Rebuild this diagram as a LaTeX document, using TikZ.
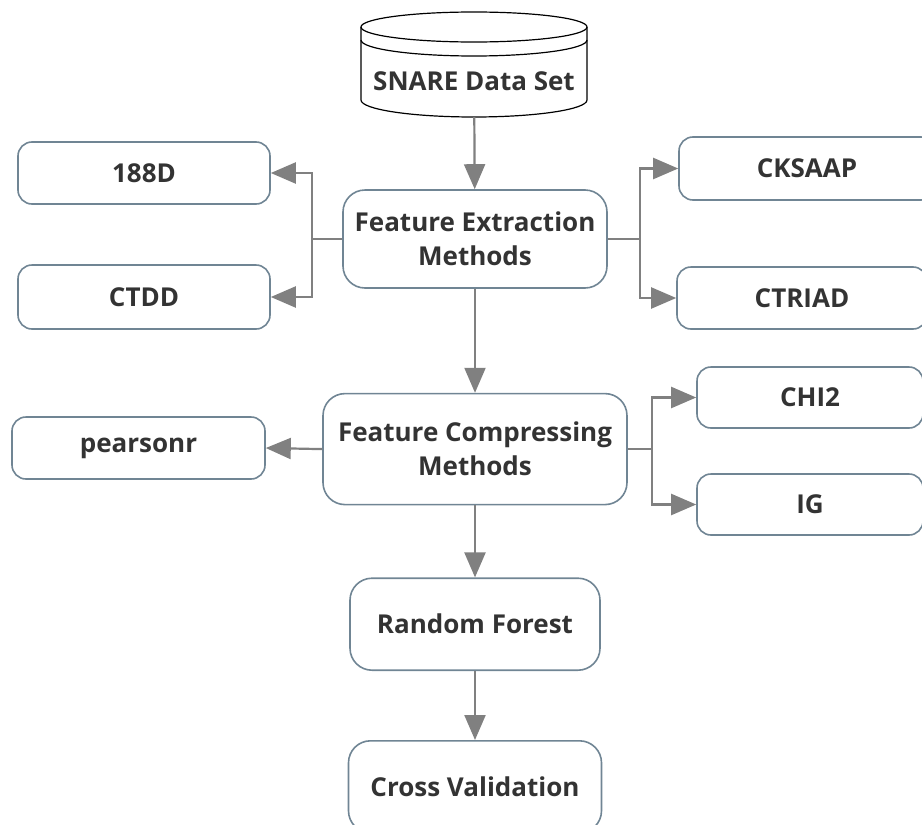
\documentclass[tikz,border=0pt]{standalone}
\usepackage{fontspec}
\setmainfont{Open Sans}
\usetikzlibrary{arrows.meta,positioning}

\definecolor{boxline}{RGB}{112,133,148}
\definecolor{linkgray}{RGB}{128,128,128}
\definecolor{textgray}{RGB}{51,51,51}

\begin{document}
\begin{tikzpicture}[
    x=1pt, y=-1pt,
    node distance=72pt,
    box/.style={draw=boxline, line width=1.6pt, fill=white, rectangle, rounded corners=14pt, text=textgray, font=\fontsize{26}{34}\selectfont\bfseries, align=center, inner sep=0pt},
    sidebox/.style={box, minimum width=252pt, minimum height=62pt},
    mainbox/.style={box, rounded corners=22pt},
    cyl/.style={draw=black, line width=1.2pt},
    arrow/.style={-{Triangle[length=25pt,width=21pt]}, color=linkgray, line width=2.2pt}
]
\useasboundingbox (0,0) rectangle (922,825);

% Data set (cylinder)
\node[minimum width=226pt, minimum height=104pt, inner sep=0pt] (data) at (474,65) {};
\draw[cyl] (474,27) ellipse [x radius=113pt, y radius=15pt];
\draw[cyl] (361,40) arc [start angle=180, end angle=360, x radius=113pt, y radius=16pt];
\draw[cyl] (361,27) -- (361,100) arc [start angle=180, end angle=360, x radius=113pt, y radius=17pt] -- (587,27);
\node[text=textgray, font=\fontsize{26}{34}\selectfont\bfseries] (datatext) at (474,81) {SNARE Data Set};

% Main column
\node[mainbox, minimum width=264pt, minimum height=98pt] (fe) at (475,239) {Feature Extraction\\Methods};
\node[mainbox, below=104pt of fe, minimum width=304pt, minimum height=111pt] (fcm) {Feature Compressing\\Methods};
\node[mainbox, below=72pt of fcm, minimum width=250pt, minimum height=92pt] (rf) {Random Forest};
\node[mainbox, below=69pt of rf, minimum width=253pt, minimum height=92pt] (cv) {Cross Validation};

% Feature extraction methods
\node[sidebox] (d188) at (144,173) {188D};
\node[sidebox, minimum height=64pt] (ctdd) at (144,297) {CTDD};
\node[sidebox, minimum width=256pt, minimum height=63pt] (cksaap) at (807,168.5) {CKSAAP};
\node[sidebox, minimum width=250pt] (ctriad) at (802,298) {CTRIAD};

% Feature compressing methods
\node[sidebox, minimum width=253pt] (pearsonr) at (138.5,448) {pearsonr};
\node[sidebox, minimum width=226pt, minimum height=61pt] (chi2) at (810,397.5) {CHI2};
\node[sidebox, minimum width=226pt, minimum height=61pt] (ig) at (810,504.5) {IG};

% Split points
\coordinate[left=30pt of fe] (fesplitl);
\coordinate[right=32pt of fe] (fesplitr);
\coordinate[right=24pt of fcm] (fcmsplit);

% Arrows
\draw[arrow] (data) -- (fe);
\draw[arrow] (fe) -- (fcm);
\draw[arrow] (fcm) -- (rf);
\draw[arrow] (rf) -- (cv);

\draw[arrow] (fe.west) -- (fesplitl) |- (d188.east);
\draw[arrow] (fesplitl) |- (ctdd.east);
\draw[arrow] (fe.east) -- (fesplitr) |- (cksaap.west);
\draw[arrow] (fesplitr) |- (ctriad.west);

\draw[arrow] (fcm.west) -- (pearsonr.east);
\draw[arrow] (fcm.east) -- (fcmsplit) |- (chi2.west);
\draw[arrow] (fcmsplit) |- (ig.west);
\end{tikzpicture}
\end{document}
